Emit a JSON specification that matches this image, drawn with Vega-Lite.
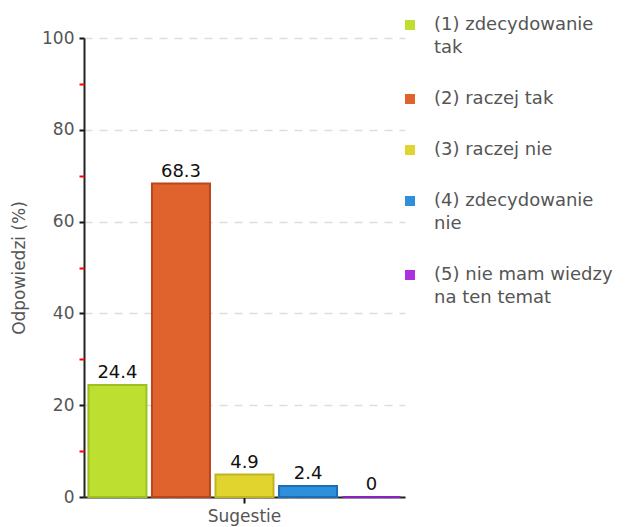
{
  "$schema": "https://vega.github.io/schema/vega-lite/v6.json",
  "width": 321,
  "height": 459,
  "autosize": "none",
  "padding": {"left": 84, "top": 38, "right": 230, "bottom": 30},
  "background": "white",
  "config": {
    "view": {"stroke": null},
    "font": "DejaVu Sans"
  },
  "data": {
    "values": [
      {"group": "Sugestie", "series": "(1) zdecydowanie tak", "value": 24.4},
      {"group": "Sugestie", "series": "(2) raczej tak", "value": 68.3},
      {"group": "Sugestie", "series": "(3) raczej nie", "value": 4.9},
      {"group": "Sugestie", "series": "(4) zdecydowanie nie", "value": 2.4},
      {"group": "Sugestie", "series": "(5) nie mam wiedzy na ten temat", "value": 0}
    ]
  },
  "encoding": {
    "x": {
      "field": "group", "type": "nominal",
      "scale": {"paddingInner": 0, "paddingOuter": 0},
      "axis": {
        "title": null, "labelAngle": 0, "labelFontSize": 17, "labelColor": "#555",
        "labelPadding": 5, "tickSize": 6, "tickColor": "#111", "tickWidth": 2,
        "domainColor": "#222", "domainWidth": 2
      }
    },
    "xOffset": {
      "field": "series", "type": "nominal",
      "sort": ["(1) zdecydowanie tak", "(2) raczej tak", "(3) raczej nie", "(4) zdecydowanie nie", "(5) nie mam wiedzy na ten temat"],
      "scale": {"paddingInner": 0.087, "paddingOuter": 0.07}
    }
  },
  "layer": [
    {
      "mark": {"type": "bar", "strokeWidth": 2},
      "encoding": {
        "y": {
          "field": "value", "type": "quantitative",
          "scale": {"domain": [0, 100], "nice": false},
          "axis": {
            "values": [0, 20, 40, 60, 80, 100],
            "title": "Odpowiedzi (%)", "titleFontSize": 17, "titleColor": "#555",
            "titleFontWeight": "normal", "titlePadding": 13,
            "labelFontSize": 17, "labelColor": "#555", "labelPadding": 5,
            "tickSize": 5, "tickColor": "#111", "tickWidth": 2,
            "domainColor": "#222", "domainWidth": 2,
            "grid": true, "gridColor": "#dddddd", "gridDash": [8, 7], "gridWidth": 1.5
          }
        },
        "fill": {
          "field": "series", "type": "nominal",
          "scale": {
            "domain": ["(1) zdecydowanie tak", "(2) raczej tak", "(3) raczej nie", "(4) zdecydowanie nie", "(5) nie mam wiedzy na ten temat"],
            "range": ["#bddf2f", "#e0632e", "#e1d42f", "#2e8fdc", "#ad30e0"]
          },
          "legend": {
            "orient": "none", "legendX": 317, "legendY": -22, "direction": "vertical",
            "title": null, "padding": 0,
            "symbolType": "square", "symbolSize": 100, "symbolStrokeWidth": 0,
            "labelFontSize": 18, "labelColor": "#555", "labelOffset": 15,
            "labelLimit": 400, "rowPadding": 33,
            "labelExpr": "length(datum.label) > 19 ? [substring(datum.label, 0, lastindexof(substring(datum.label, 0, 19), ' ')), substring(datum.label, lastindexof(substring(datum.label, 0, 19), ' ') + 1)] : datum.label",
            "values": ["(1) zdecydowanie tak", "(2) raczej tak", "(3) raczej nie", "(4) zdecydowanie nie", "(5) nie mam wiedzy na ten temat"],
            "encode": {"labels": {"update": {"lineHeight": {"value": 23}}}}
          }
        },
        "stroke": {
          "field": "series", "type": "nominal",
          "scale": {
            "domain": ["(1) zdecydowanie tak", "(2) raczej tak", "(3) raczej nie", "(4) zdecydowanie nie", "(5) nie mam wiedzy na ten temat"],
            "range": ["#9dbf1f", "#b8461c", "#c2b320", "#1d6eb5", "#8c20c0"]
          },
          "legend": null
        }
      }
    },
    {
      "mark": {"type": "text", "baseline": "alphabetic", "dy": -7, "fontSize": 18, "color": "#111"},
      "encoding": {
        "y": {
          "field": "value", "type": "quantitative",
          "axis": {
            "orient": "left", "values": [10, 30, 50, 70, 90], "labels": false, "domain": false,
            "grid": false, "title": null, "tickSize": 5, "tickColor": "#ff0000", "tickWidth": 2
          }
        },
        "text": {"field": "value", "type": "quantitative"}
      }
    }
  ],
  "resolve": {"axis": {"y": "independent"}}
}
